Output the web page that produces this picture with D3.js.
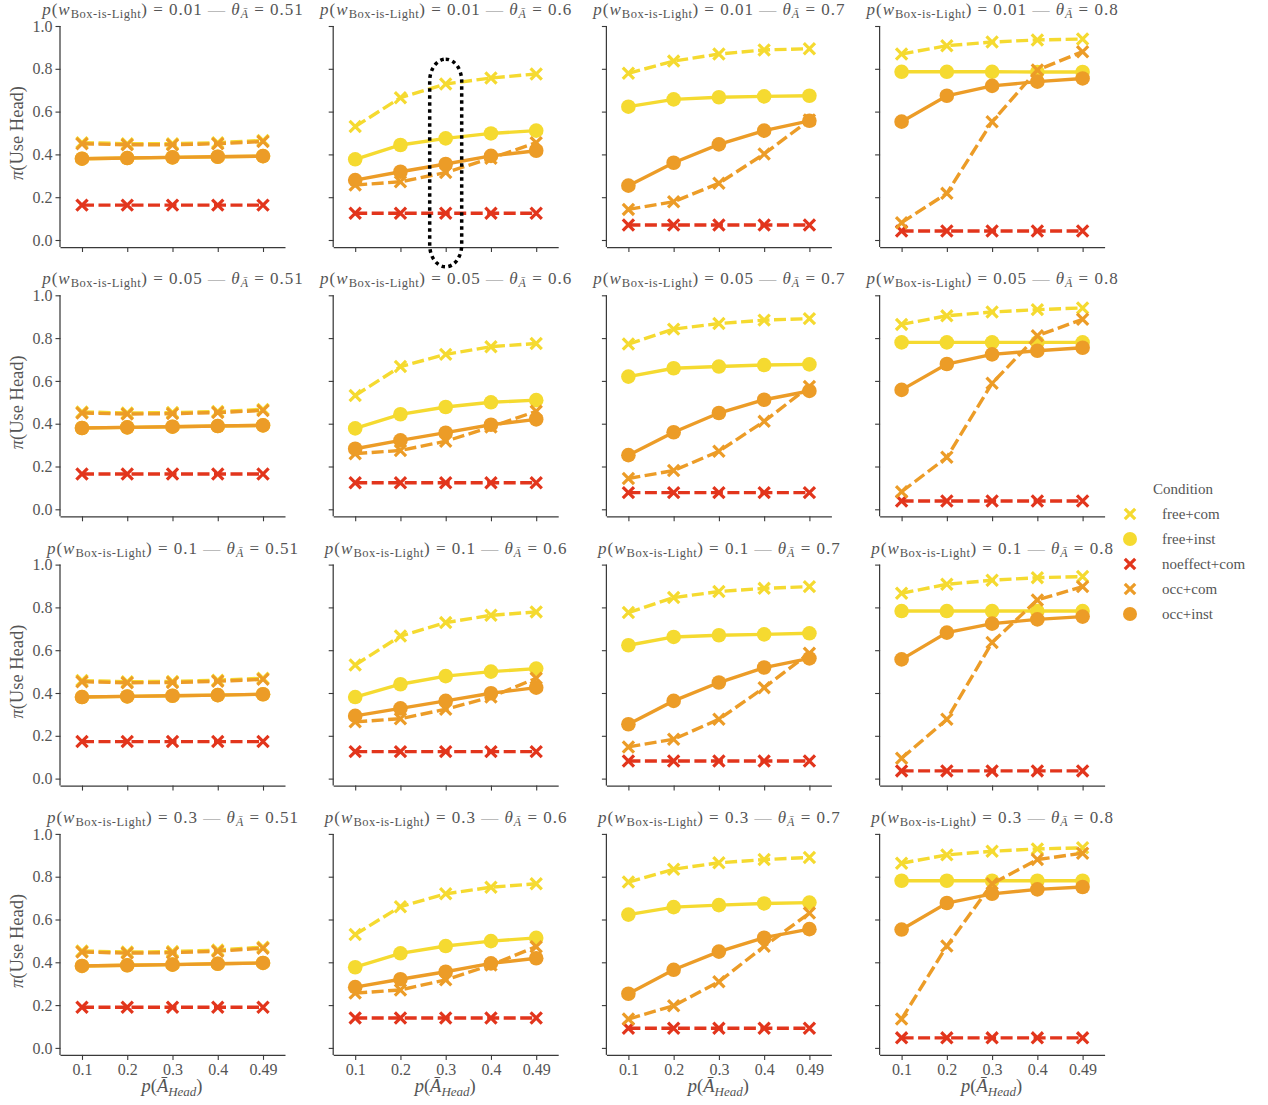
<!DOCTYPE html>
<html>
<head>
<meta charset="utf-8">
<script src="https://cdn.jsdelivr.net/npm/d3@7"></script>
<style>
  html, body { margin: 0; padding: 0; background: #fff; }
  svg text { font-family: "Liberation Serif", "DejaVu Serif", serif; fill: #555; }
</style>
</head>
<body>
<svg id="chart" width="1268" height="1105"></svg>
<script>
// x categories: p(Ā_Head)
const categories = ["0.1", "0.2", "0.3", "0.4", "0.49"];
// facet rows: p(w_Box-is-Light), facet columns: θ_Ā
const boxLight = ["0.01", "0.05", "0.1", "0.3"];
const thetas = ["0.51", "0.6", "0.7", "0.8"];
const conditions = ["free+com", "free+inst", "noeffect+com", "occ+com", "occ+inst"];

// π(Use Head) per panel, listed row by row (4 rows × 4 columns), 5 values each
const freeCom = [
  [0.455, 0.450, 0.450, 0.455, 0.465], [0.530, 0.665, 0.729, 0.757, 0.776], [0.779, 0.836, 0.869, 0.888, 0.894], [0.869, 0.908, 0.925, 0.935, 0.939],
  [0.455, 0.450, 0.452, 0.457, 0.467], [0.532, 0.667, 0.724, 0.760, 0.775], [0.772, 0.842, 0.868, 0.884, 0.891], [0.864, 0.904, 0.922, 0.933, 0.941],
  [0.458, 0.453, 0.454, 0.460, 0.469], [0.531, 0.666, 0.729, 0.763, 0.779], [0.776, 0.846, 0.874, 0.889, 0.897], [0.866, 0.908, 0.927, 0.939, 0.944],
  [0.453, 0.448, 0.450, 0.457, 0.471], [0.530, 0.660, 0.720, 0.751, 0.767], [0.775, 0.835, 0.865, 0.880, 0.890], [0.863, 0.902, 0.919, 0.930, 0.935]
];
const freeInst = [
  [0.380, 0.383, 0.386, 0.389, 0.392], [0.377, 0.444, 0.475, 0.498, 0.511], [0.623, 0.657, 0.667, 0.671, 0.674], [0.786, 0.786, 0.786, 0.785, 0.785],
  [0.380, 0.383, 0.386, 0.389, 0.392], [0.378, 0.444, 0.478, 0.500, 0.510], [0.620, 0.659, 0.667, 0.674, 0.677], [0.780, 0.780, 0.780, 0.780, 0.780],
  [0.381, 0.384, 0.387, 0.390, 0.394], [0.381, 0.441, 0.479, 0.500, 0.514], [0.623, 0.662, 0.670, 0.674, 0.679], [0.783, 0.783, 0.783, 0.783, 0.783],
  [0.383, 0.386, 0.389, 0.393, 0.397], [0.377, 0.442, 0.476, 0.499, 0.514], [0.623, 0.658, 0.667, 0.675, 0.679], [0.781, 0.781, 0.781, 0.781, 0.781]
];
const noeffectCom = [
  [0.163, 0.163, 0.163, 0.163, 0.163], [0.125, 0.125, 0.125, 0.125, 0.125], [0.070, 0.070, 0.070, 0.070, 0.070], [0.042, 0.042, 0.042, 0.042, 0.042],
  [0.165, 0.165, 0.165, 0.165, 0.165], [0.124, 0.124, 0.124, 0.124, 0.124], [0.078, 0.078, 0.078, 0.078, 0.078], [0.039, 0.039, 0.039, 0.039, 0.039],
  [0.173, 0.173, 0.173, 0.173, 0.173], [0.126, 0.126, 0.126, 0.126, 0.126], [0.082, 0.082, 0.082, 0.082, 0.082], [0.036, 0.036, 0.036, 0.036, 0.036],
  [0.190, 0.190, 0.190, 0.190, 0.190], [0.140, 0.140, 0.140, 0.140, 0.140], [0.092, 0.092, 0.092, 0.092, 0.092], [0.047, 0.047, 0.047, 0.047, 0.047]
];
const occCom = [
  [0.450, 0.445, 0.445, 0.450, 0.460], [0.257, 0.272, 0.315, 0.382, 0.455], [0.143, 0.179, 0.265, 0.402, 0.561], [0.081, 0.218, 0.553, 0.794, 0.880],
  [0.450, 0.445, 0.447, 0.452, 0.462], [0.260, 0.275, 0.318, 0.385, 0.458], [0.144, 0.181, 0.271, 0.411, 0.574], [0.082, 0.243, 0.589, 0.811, 0.888],
  [0.453, 0.448, 0.449, 0.455, 0.464], [0.265, 0.280, 0.324, 0.381, 0.469], [0.148, 0.184, 0.277, 0.425, 0.586], [0.095, 0.277, 0.636, 0.835, 0.897],
  [0.448, 0.443, 0.445, 0.452, 0.466], [0.256, 0.271, 0.318, 0.387, 0.473], [0.135, 0.197, 0.309, 0.475, 0.630], [0.135, 0.476, 0.767, 0.880, 0.910]
];
const occInst = [
  [0.380, 0.383, 0.386, 0.389, 0.392], [0.280, 0.319, 0.355, 0.393, 0.417], [0.254, 0.361, 0.447, 0.511, 0.557], [0.553, 0.674, 0.720, 0.740, 0.755],
  [0.380, 0.383, 0.386, 0.389, 0.392], [0.283, 0.322, 0.358, 0.395, 0.420], [0.253, 0.360, 0.450, 0.512, 0.553], [0.558, 0.679, 0.724, 0.741, 0.755],
  [0.381, 0.384, 0.387, 0.390, 0.394], [0.293, 0.328, 0.363, 0.399, 0.425], [0.254, 0.363, 0.449, 0.519, 0.562], [0.557, 0.682, 0.724, 0.744, 0.757],
  [0.383, 0.386, 0.389, 0.393, 0.397], [0.284, 0.321, 0.356, 0.395, 0.419], [0.253, 0.365, 0.450, 0.515, 0.555], [0.553, 0.677, 0.720, 0.741, 0.752]
];
const yTicks = [0, 0.2, 0.4, 0.6, 0.8, 1.0];

// series styling: colour, marker and dashing per condition
const seriesList = [
  { name: "free+com",     values: freeCom,     color: "#f5da30", marker: "x", dashed: true },
  { name: "free+inst",    values: freeInst,    color: "#f5da30", marker: "o", dashed: false },
  { name: "noeffect+com", values: noeffectCom, color: "#e2351c", marker: "x", dashed: true },
  { name: "occ+com",      values: occCom,      color: "#ec9c27", marker: "x", dashed: true },
  { name: "occ+inst",     values: occInst,     color: "#ec9c27", marker: "o", dashed: false }
];

const svg = d3.select("#chart");
const panelW = 225, panelH = 221;
const colStep = 273.2, rowStep = 269.3;
const left0 = 60.5, top0 = 26;
const axisColor = "#3a3a3a";

function drawMarker(g, type, cx, cy, color, r) {
  if (type === "o") {
    g.append("circle").attr("cx", cx).attr("cy", cy).attr("r", r).attr("fill", color);
  } else {
    const s = r * 0.8;
    g.append("path")
      .attr("d", `M${cx - s},${cy - s}L${cx + s},${cy + s}M${cx - s},${cy + s}L${cx + s},${cy - s}`)
      .attr("stroke", color).attr("stroke-width", 3.2).attr("fill", "none");
  }
}

// panel title: p(w_Box-is-Light) = a — θ_Ā = b
function addTitle(x, y, a, b) {
  const t = svg.append("text").attr("x", x).attr("y", y).attr("text-anchor", "middle")
    .attr("font-size", 17).attr("letter-spacing", 1.0);
  t.append("tspan").attr("font-style", "italic").text("p");
  t.append("tspan").text("(");
  t.append("tspan").attr("font-style", "italic").text("w");
  t.append("tspan").attr("font-size", 12.5).attr("letter-spacing", 0.5).attr("dy", 3).text("Box-is-Light");
  t.append("tspan").attr("dy", -3).text(") = " + a + " ");
  t.append("tspan").attr("fill", "#bbb").text("—");
  t.append("tspan").attr("font-style", "italic").text(" θ");
  t.append("tspan").attr("font-style", "italic").attr("font-size", 12).attr("dy", 3).text("A\u0304");
  t.append("tspan").attr("dy", -3).text(" = " + b);
}

boxLight.forEach((bl, r) => {
  thetas.forEach((th, c) => {
    const left = left0 + c * colStep;
    const top = top0 + r * rowStep;
    const bottom = top + panelH;
    const idx = r * 4 + c;

    const x = d3.scalePoint().domain(categories).range([left, left + panelW - 1]).padding(0.475);
    const y = d3.scaleLinear().domain([-0.0327, 1]).range([bottom, top]);

    const g = svg.append("g");

    // axes
    const yAxis = d3.axisLeft(y).tickValues(yTicks).tickSize(5).tickPadding(3)
      .tickFormat(c === 0 ? d3.format(".1f") : () => "");
    const ya = g.append("g").attr("transform", `translate(${left},0)`).call(yAxis);
    const xAxis = d3.axisBottom(x).tickSize(5).tickPadding(4)
      .tickFormat(r === 3 ? (d => d) : () => "");
    const xa = g.append("g").attr("transform", `translate(0,${bottom})`).call(xAxis);
    [ya, xa].forEach(a => {
      a.select(".domain").attr("stroke", axisColor).attr("stroke-width", 1.25)
        .attr("d", a === ya ? `M-0.5,${top}V${bottom}` : `M${left},0.5H${left + panelW}`);
      a.selectAll(".tick line").attr("stroke", axisColor).attr("stroke-width", 1.1);
      a.selectAll(".tick text").attr("font-size", 16).attr("fill", "#555")
        .style("font-family", "'Liberation Serif', serif");
    });

    // series
    seriesList.forEach(s => {
      const vals = s.values[idx];
      const line = d3.line().x((d, i) => x(categories[i])).y(d => y(d));
      g.append("path").attr("d", line(vals)).attr("fill", "none")
        .attr("stroke", s.color).attr("stroke-width", 3.4)
        .attr("stroke-dasharray", s.dashed ? "12,4.5" : null);
      vals.forEach((v, i) => drawMarker(g, s.marker, x(categories[i]), y(v), s.color, s.marker === "o" ? 7.3 : 7));
    });

    addTitle(left + panelW / 2, top - 11, bl, th);

    // y label
    if (c === 0) {
      const yl = svg.append("text").attr("transform", `translate(23,${(top + bottom - 7) / 2}) rotate(-90)`)
        .attr("text-anchor", "middle").attr("font-size", 18.5);
      yl.append("tspan").attr("font-style", "italic").text("π");
      yl.append("tspan").text("(Use Head)");
    }
    // x label
    if (r === 3) {
      const xl = svg.append("text").attr("x", left + panelW / 2 - 1).attr("y", bottom + 37)
        .attr("text-anchor", "middle").attr("font-size", 18.5);
      xl.append("tspan").attr("font-style", "italic").text("p");
      xl.append("tspan").text("(");
      xl.append("tspan").attr("font-style", "italic").text("A\u0304");
      xl.append("tspan").attr("font-style", "italic").attr("font-size", 13).attr("dy", 4).text("Head");
      xl.append("tspan").attr("dy", -4).text(")");
    }

    // dotted highlight around the p(Ā_Head) = 0.3 column of the second panel
    if (r === 0 && c === 1) {
      const cx = x("0.3");
      const yTop = y(0.845), yBot = y(-0.125);
      g.append("rect").attr("x", cx - 16).attr("y", yTop).attr("width", 32).attr("height", yBot - yTop)
        .attr("rx", 16).attr("ry", 22).attr("fill", "none")
        .attr("stroke", "#000").attr("stroke-width", 3.5).attr("stroke-dasharray", "3.5,3.5");
    }
  });
});

// legend
const legend = svg.append("g").attr("transform", "translate(1130,0)");
legend.append("text").attr("x", 23).attr("y", 494).attr("font-size", 15).text("Condition");
seriesList.forEach((s, i) => {
  const yy = 514 + i * 25;
  drawMarker(legend, s.marker, 0, yy, s.color, s.marker === "o" ? 7 : 6.5);
  legend.append("text").attr("x", 32).attr("y", yy + 5).attr("font-size", 15).text(s.name);
});
</script>
</body>
</html>
